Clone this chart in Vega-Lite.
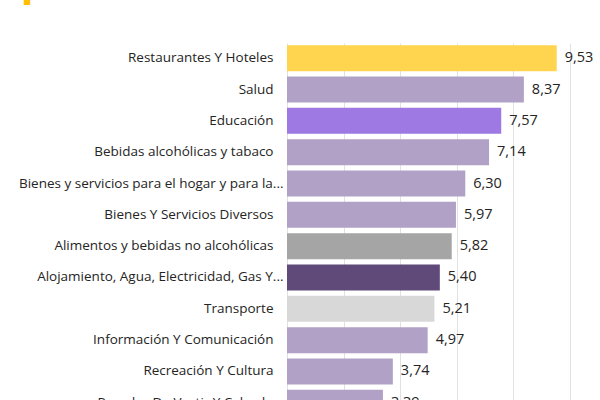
{
  "$schema": "https://vega.github.io/schema/vega-lite/v6.json",
  "width": 283,
  "height": 375,
  "autosize": "none",
  "padding": {"left": 287, "top": 43, "right": 30, "bottom": 0},
  "title": {
    "text": "█",
    "anchor": "start",
    "frame": "group",
    "font": "DejaVu Sans",
    "fontSize": 8,
    "color": "#ffc000",
    "baseline": "bottom",
    "offset": 0,
    "dx": -263,
    "dy": -30
  },
  "data": {
    "values": [
      {"categoria": "Restaurantes Y Hoteles", "variacion": 9.53},
      {"categoria": "Salud", "variacion": 8.37},
      {"categoria": "Educación", "variacion": 7.57},
      {"categoria": "Bebidas alcohólicas y tabaco", "variacion": 7.14},
      {"categoria": "Bienes y servicios para el hogar y para la...", "variacion": 6.30},
      {"categoria": "Bienes Y Servicios Diversos", "variacion": 5.97},
      {"categoria": "Alimentos y bebidas no alcohólicas", "variacion": 5.82},
      {"categoria": "Alojamiento, Agua, Electricidad, Gas Y...", "variacion": 5.40},
      {"categoria": "Transporte", "variacion": 5.21},
      {"categoria": "Información Y Comunicación", "variacion": 4.97},
      {"categoria": "Recreación Y Cultura", "variacion": 3.74},
      {"categoria": "Prendas De Vestir Y Calzado", "variacion": 3.39}
    ]
  },
  "encoding": {
    "y": {
      "field": "categoria",
      "type": "nominal",
      "sort": null,
      "scale": {"paddingInner": 0.17, "paddingOuter": 0.07},
      "axis": {
        "title": null,
        "domain": false,
        "ticks": false,
        "labelPadding": {"expr": "indexof(datum.label, '...') > 0 ? 4 : 14"},
        "labelFontSize": 13.5,
        "labelFont": "Open Sans",
        "labelColor": "#252423",
        "labelLimit": 300
      }
    },
    "x": {
      "field": "variacion",
      "type": "quantitative",
      "scale": {"domain": [0, 10]},
      "axis": {
        "title": null,
        "values": [0, 2, 4, 6, 8, 10],
        "grid": true,
        "gridColor": "#e1e1e1",
        "domain": false,
        "ticks": false,
        "labels": false
      }
    }
  },
  "layer": [
    {
      "mark": {"type": "bar"},
      "encoding": {
        "color": {
          "field": "categoria",
          "type": "nominal",
          "legend": null,
          "scale": {
            "domain": [
              "Restaurantes Y Hoteles", "Salud", "Educación",
              "Bebidas alcohólicas y tabaco",
              "Bienes y servicios para el hogar y para la...",
              "Bienes Y Servicios Diversos",
              "Alimentos y bebidas no alcohólicas",
              "Alojamiento, Agua, Electricidad, Gas Y...",
              "Transporte", "Información Y Comunicación",
              "Recreación Y Cultura", "Prendas De Vestir Y Calzado"
            ],
            "range": [
              "#ffd44f", "#b1a1c7", "#9e79e3", "#b1a1c7",
              "#b1a1c7", "#b1a1c7", "#a5a5a5", "#5f4a7a",
              "#d8d8d8", "#b1a1c7", "#b1a1c7", "#b1a1c7"
            ]
          }
        }
      }
    },
    {
      "mark": {
        "type": "text",
        "align": "left",
        "dx": 8,
        "font": "Open Sans",
        "fontSize": 14.5,
        "color": "#252423"
      },
      "encoding": {
        "text": {"field": "variacion", "type": "quantitative", "format": ".2f"}
      }
    }
  ],
  "config": {
    "view": {"stroke": null},
    "locale": {
      "number": {
        "decimal": ",",
        "thousands": ".",
        "grouping": [3],
        "currency": ["", " €"]
      }
    }
  }
}
